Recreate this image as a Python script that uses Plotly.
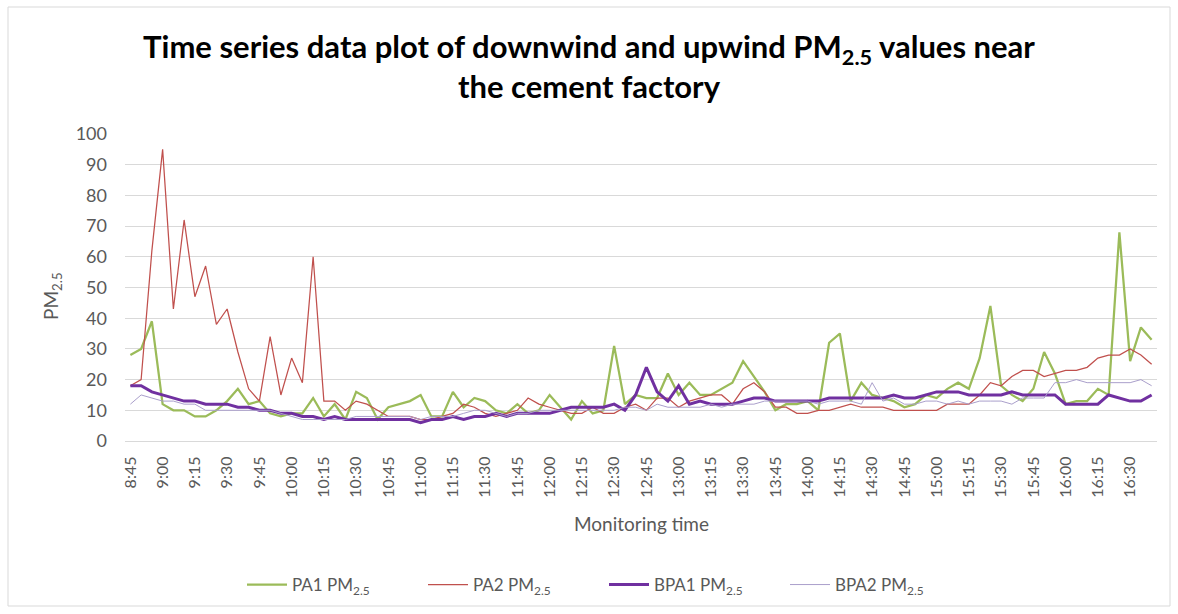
import plotly.graph_objects as go

# Monitoring times: 5-minute readings from 8:45 to 16:40
times = []
h, m = 8, 45
for _ in range(96):
    times.append(f"{h}:{m:02d}")
    m += 5
    if m == 60:
        h, m = h + 1, 0

tick_labels = times[::3]

pa1 = [28, 30, 39, 12, 10, 10, 8, 8, 10, 13, 17, 12, 13, 9, 8, 9, 9, 14, 8, 12,
       7, 16, 14, 7, 11, 12, 13, 15, 8, 8, 16, 11, 14, 13, 10, 9, 12, 9, 10, 15,
       11, 7, 13, 9, 10, 31, 12, 15, 14, 14, 22, 15, 19, 15, 15, 17, 19, 26, 21, 16,
       10, 12, 12, 13, 10, 32, 35, 13, 19, 15, 14, 13, 11, 12, 15, 14, 17, 19, 17, 27,
       44, 18, 15, 13, 17, 29, 22, 12, 13, 13, 17, 15, 68, 26, 37, 33]

pa2 = [18, 20, 62, 95, 43, 72, 47, 57, 38, 43, 29, 17, 13, 34, 15, 27, 19, 60, 13, 13,
       10, 13, 12, 10, 8, 8, 8, 7, 7, 8, 9, 12, 11, 9, 8, 9, 10, 14, 12, 11,
       10, 9, 9, 11, 9, 9, 11, 12, 10, 14, 14, 11, 13, 14, 15, 15, 12, 17, 19, 16,
       11, 11, 9, 9, 10, 10, 11, 12, 11, 11, 11, 10, 10, 10, 10, 10, 12, 12, 12, 15,
       19, 18, 21, 23, 23, 21, 22, 23, 23, 24, 27, 28, 28, 30, 28, 25]

bpa1 = [18, 18, 16, 15, 14, 13, 13, 12, 12, 12, 11, 11, 10, 10, 9, 9, 8, 8, 7, 8,
        7, 7, 7, 7, 7, 7, 7, 6, 7, 7, 8, 7, 8, 8, 9, 8, 9, 9, 9, 9,
        10, 11, 11, 11, 11, 12, 10, 15, 24, 16, 13, 18, 12, 13, 12, 12, 12, 13, 14, 14,
        13, 13, 13, 13, 13, 14, 14, 14, 14, 14, 14, 15, 14, 14, 15, 16, 16, 16, 15, 15,
        15, 15, 16, 15, 15, 15, 15, 12, 12, 12, 12, 15, 14, 13, 13, 15]

bpa2 = [12, 15, 14, 13, 13, 12, 12, 10, 10, 10, 10, 10, 10, 10, 9, 8, 7, 7, 7, 7,
        7, 8, 8, 8, 8, 8, 8, 7, 8, 8, 8, 9, 10, 10, 9, 8, 9, 9, 10, 10,
        10, 10, 10, 10, 10, 10, 11, 11, 10, 12, 11, 11, 11, 11, 12, 11, 12, 12, 12, 13,
        13, 13, 13, 13, 12, 13, 13, 13, 12, 19, 13, 14, 12, 12, 13, 13, 12, 13, 12, 13,
        13, 13, 12, 14, 14, 14, 19, 19, 20, 19, 19, 19, 19, 19, 20, 18]

W, H = 1178, 614
ML, MR, MT, MB = 125, 21, 134, 173

series = [
    ("PA1 PM<sub>2.5</sub>", pa1, "#9bbb59", 2.25),
    ("PA2 PM<sub>2.5</sub>", pa2, "#c0504d", 1.25),
    ("BPA1 PM<sub>2.5</sub>", bpa1, "#7030a0", 3.0),
    ("BPA2 PM<sub>2.5</sub>", bpa2, "#aa9fcb", 1.0),
]

fig = go.Figure()
for name, vals, color, width in series:
    fig.add_trace(go.Scatter(
        x=times, y=vals, mode="lines", name=name,
        line=dict(color=color, width=width),
    ))

font_family = "Lato, 'Open Sans', sans-serif"
grey = "#595959"

fig.update_layout(
    width=W, height=H,
    margin=dict(l=ML, r=MR, t=MT, b=MB),
    paper_bgcolor="white", plot_bgcolor="white",
    font=dict(family=font_family, color=grey),
    title=dict(
        text="Time series data plot of downwind and upwind PM<sub>2.5</sub> values near<br>the cement factory",
        x=0.5, xref="container", xanchor="center",
        y=1 - 58 / H, yref="container", yanchor="top",
        font=dict(family=font_family, size=31, color="#000000", weight="bold"),
    ),
    xaxis=dict(
        type="category", range=[-0.5, 95.5],
        tickmode="array", tickvals=tick_labels, ticktext=tick_labels,
        tickangle=-90, tickfont=dict(size=16, color=grey),
        showgrid=False, showline=True, linecolor="#d9d9d9", linewidth=1.3,
        ticks="", ticklabelstandoff=8,
    ),
    yaxis=dict(
        range=[0, 100], dtick=10, tick0=0,
        tickfont=dict(size=18, color=grey),
        showgrid=True, gridcolor="#d9d9d9", gridwidth=1.3,
        zeroline=False, showline=False, ticks="", ticklabelstandoff=17,
    ),
    legend=dict(
        orientation="h", xref="container", yref="container",
        x=604 / W, xanchor="center", y=1 - 585 / H, yanchor="middle",
        font=dict(size=17, color=grey), entrywidth=126, itemwidth=40,
        bgcolor="rgba(0,0,0,0)",
    ),
    showlegend=True,
)

fig.add_annotation(
    text="Monitoring time", xref="paper", yref="paper",
    x=(641 - ML) / (W - ML - MR), y=-(523 - (H - MB)) / (H - MT - MB),
    showarrow=False, font=dict(size=19, color=grey),
    xanchor="center", yanchor="middle",
)
fig.add_annotation(
    text="PM<sub>2.5</sub>", xref="paper", yref="paper",
    x=-(ML - 52) / (W - ML - MR), y=(H - MB - 296) / (H - MT - MB),
    showarrow=False, textangle=-90, font=dict(size=19, color=grey),
    xanchor="center", yanchor="middle",
)

# Light chart-area border
pw, ph = W - ML - MR, H - MT - MB
fig.add_shape(
    type="rect", xref="paper", yref="paper",
    x0=(8 - ML) / pw, x1=(1170 - ML) / pw,
    y0=(H - MB - 606) / ph, y1=(H - MB - 7) / ph,
    line=dict(color="#d9d9d9", width=1), fillcolor="rgba(0,0,0,0)", layer="below",
)

fig.write_html("out.html")
